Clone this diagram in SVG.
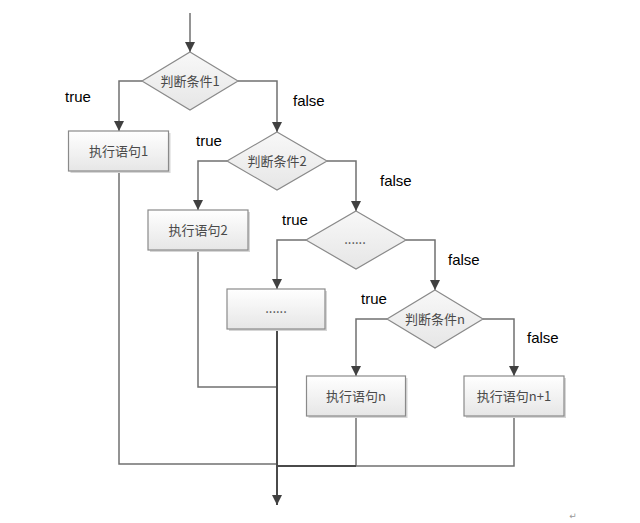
<svg xmlns="http://www.w3.org/2000/svg" width="640" height="523" viewBox="0 0 640 523">
<style>
.box{fill:url(#gb);stroke:#8a8a8a;stroke-width:1.2}
.shadow{fill:#d6d6d6}
.dia{fill:url(#gd);stroke:#8a8a8a;stroke-width:1.2}
.cn{font-family:"Noto Sans CJK SC","Liberation Sans",sans-serif;font-size:13px;fill:#4a4a4a;text-anchor:middle}
.lbl{font-family:"Liberation Sans",Arial,sans-serif;font-size:15px;fill:#000}
.ln{fill:none;stroke:#707070;stroke-width:1.5}
.main{fill:none;stroke:#4a4a4a;stroke-width:2}
</style>
<defs>
<linearGradient id="gb" x1="0" y1="0" x2="0" y2="1"><stop offset="0" stop-color="#ffffff"/><stop offset="1" stop-color="#e6e6e6"/></linearGradient>
<linearGradient id="gd" x1="0" y1="0" x2="0" y2="1"><stop offset="0" stop-color="#f8f8f8"/><stop offset="1" stop-color="#e6e6e6"/></linearGradient>
<marker id="ar" markerUnits="userSpaceOnUse" markerWidth="11" markerHeight="11" refX="10" refY="5" orient="auto"><path d="M0,0 L10,5 L0,10 z" fill="#404040"/></marker>
</defs>
<rect width="640" height="523" fill="#ffffff"/>
<g id="connectors">
<path class="ln" d="M190,13 V52" marker-end="url(#ar)"/>
<path class="ln" d="M142,81 H119 V131" marker-end="url(#ar)"/>
<path class="ln" d="M238,81 H277 V132" marker-end="url(#ar)"/>
<path class="ln" d="M227,161 H198 V210" marker-end="url(#ar)"/>
<path class="ln" d="M327,161 H356 V211" marker-end="url(#ar)"/>
<path class="ln" d="M306,240 H277 V289" marker-end="url(#ar)"/>
<path class="ln" d="M406,240 H435 V290" marker-end="url(#ar)"/>
<path class="ln" d="M387,319 H356 V376" marker-end="url(#ar)"/>
<path class="ln" d="M483,319 H514 V376" marker-end="url(#ar)"/>
<path class="ln" d="M119,171 V464 H277"/>
<path class="ln" d="M198,250 V387 H277"/>
<path class="ln" d="M514,416 V466 H356"/>
<path class="ln" d="M356,416 V466"/>
<path class="main" d="M356,466 H277"/>
<path class="main" d="M277,329 V505" marker-end="url(#ar)"/>
</g>
<g id="d1">
<polygon class="dia" points="190,52 238,81 190,110 142,81"/>
<text class="cn" x="190" y="86">判断条件1</text>
</g>
<g id="b1">
<rect class="shadow" x="70.5" y="133" width="100" height="40"/>
<rect class="box" x="68.5" y="131" width="100" height="40"/>
<text class="cn" x="118.5" y="156">执行语句1</text>
</g>
<g id="d2">
<polygon class="dia" points="277,132 327,161 277,190 227,161"/>
<text class="cn" x="277" y="166">判断条件2</text>
</g>
<g id="b2">
<rect class="shadow" x="150" y="212" width="100" height="40"/>
<rect class="box" x="148" y="210" width="100" height="40"/>
<text class="cn" x="198" y="235">执行语句2</text>
</g>
<g id="d3">
<polygon class="dia" points="356,211 406,240 356,269 306,240"/>
<text class="cn" x="355" y="244">......</text>
</g>
<g id="b3">
<rect class="shadow" x="229" y="291" width="98" height="40"/>
<rect class="box" x="227" y="289" width="98" height="40"/>
<text class="cn" x="276" y="313">......</text>
</g>
<g id="dn">
<polygon class="dia" points="435,290 483,319 435,348 387,319"/>
<text class="cn" x="435" y="324">判断条件n</text>
</g>
<g id="bn">
<rect class="shadow" x="308.5" y="378" width="99" height="40"/>
<rect class="box" x="306.5" y="376" width="99" height="40"/>
<text class="cn" x="356" y="401">执行语句n</text>
</g>
<g id="bn1">
<rect class="shadow" x="466" y="378" width="100" height="40"/>
<rect class="box" x="464" y="376" width="100" height="40"/>
<text class="cn" x="514" y="401">执行语句n+1</text>
</g>
<g id="labels">
<text class="lbl" x="65" y="102">true</text>
<text class="lbl" x="293" y="106">false</text>
<text class="lbl" x="196" y="146">true</text>
<text class="lbl" x="380" y="186">false</text>
<text class="lbl" x="282" y="225">true</text>
<text class="lbl" x="448" y="265">false</text>
<text class="lbl" x="361" y="304">true</text>
<text class="lbl" x="527" y="343">false</text>
</g>
<text x="573" y="519" font-family="DejaVu Sans,sans-serif" font-size="9" fill="#999999" text-anchor="middle">↵</text>
</svg>
